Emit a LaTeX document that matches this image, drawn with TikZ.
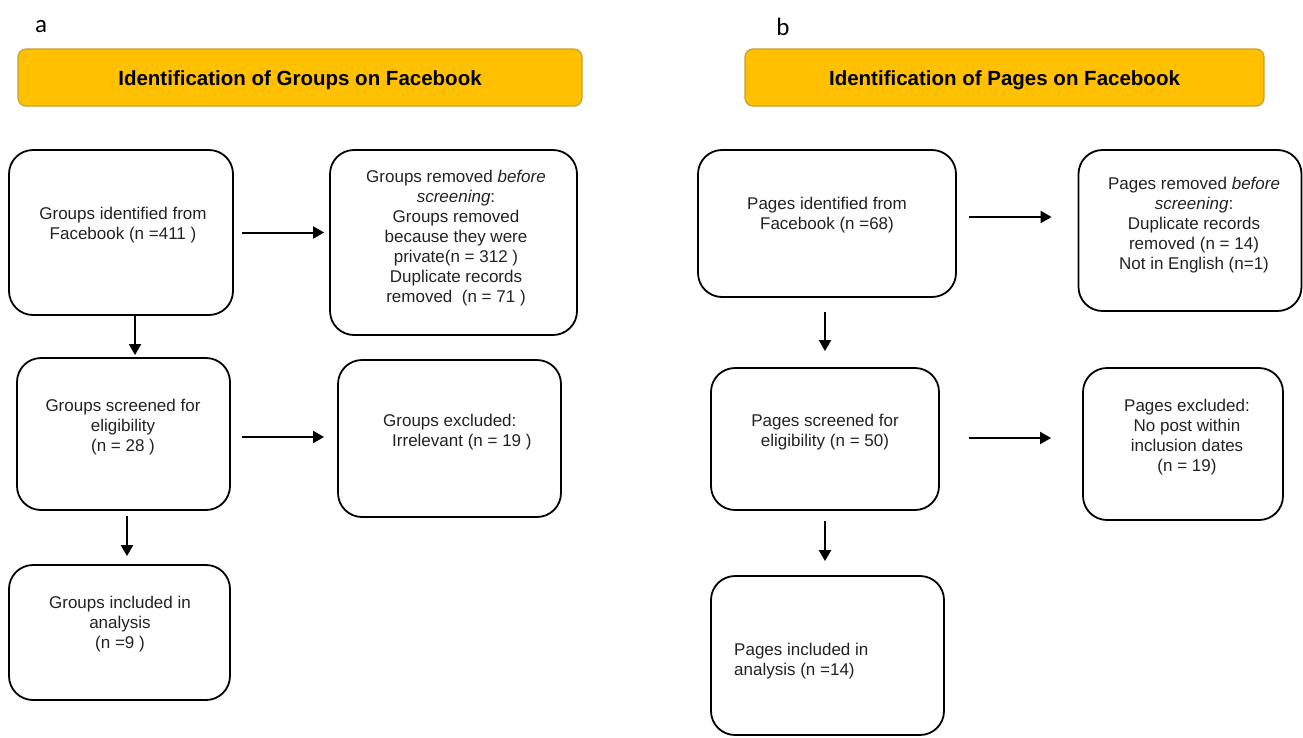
\documentclass[tikz,border=0pt]{standalone}
\usepackage{fontspec}
\setmainfont{Liberation Sans}
\newfontfamily\labfont{Carlito}
\usetikzlibrary{arrows.meta,calc}
\definecolor{hdr}{HTML}{FFC000}
\definecolor{hdrline}{HTML}{C8A030}
\definecolor{txtc}{HTML}{222222}
\tikzset{
  box/.style={draw=black, line width=1.8pt, rounded corners=24pt, inner sep=0pt},
  hdrbox/.style={draw=hdrline, fill=hdr, line width=1.2pt, rounded corners=8pt, inner sep=0pt},
  txt/.style={text=txtc, font=\fontsize{17}{20}\selectfont, inner sep=0pt},
  hdrtxt/.style={text=black, font=\fontsize{20.5}{22}\selectfont\bfseries, inner sep=0pt},
  lab/.style={font=\labfont\fontsize{25}{27}\selectfont, inner sep=0pt},
  arr/.style={line width=2pt, -{Triangle[length=11pt,width=12pt]}},
}
\begin{document}
\begin{tikzpicture}[x=1pt,y=-1pt]
\useasboundingbox (0,0) rectangle (1303,737);
% panel a
\node[lab] (la) at (41,27) {a};
\node[hdrbox, minimum width=564pt, minimum height=57pt] (Ha) at (300,77.5) {};
\node[hdrtxt] (Hat) at (300,80.5) {Identification of Groups on Facebook};
\node[box, minimum width=224pt, minimum height=165pt] (A1) at (121,232.5) {};
\node[txt, align=center] (A1t) at (123,225) {Groups identified from\\Facebook (n =411 )};
\node[box, minimum width=247pt, minimum height=185pt] (A2) at (453.5,242.5) {};
\node[txt, align=center] (A2t) at (456,238) {Groups removed \textit{before}\\\textit{screening}:\\Groups removed\\because they were\\private(n = 312 )\\Duplicate records\\removed\ \ (n = 71 )};
\node[box, minimum width=213pt, minimum height=152pt] (A3) at (123.5,434) {};
\node[txt, align=center] (A3t) at (123,427) {Groups screened for\\eligibility\\(n = 28 )};
\node[box, minimum width=223pt, minimum height=157pt] (A4) at (449.5,438.5) {};
\node[txt, align=left, anchor=west] (A4t) at (383,432) {Groups excluded:\\\hspace*{9pt}Irrelevant (n = 19 )};
\node[box, minimum width=221pt, minimum height=135pt] (A5) at (119.5,632.5) {};
\node[txt, align=center] (A5t) at (120,624) {Groups included in\\analysis\\(n =9 )};
\draw[arr] ([xshift=8pt]A1.east) -- ([xshift=-5pt]A2.west |- A1.east);
\draw[arr] ([xshift=14pt]A1.south) -- ([xshift=14pt,yshift=2pt]A1.south |- A3.north);
\draw[arr] ([xshift=11pt]A3.east |- 0,437) -- ([xshift=-13pt]A4.west |- 0,437);
\draw[arr] ([xshift=3.5pt,yshift=-5pt]A3.south) -- ([xshift=3.5pt,yshift=8pt]A3.south |- A5.north);
% panel b
\node[lab] (lb) at (783,27) {b};
\node[hdrbox, minimum width=519pt, minimum height=57pt] (Hb) at (1004.5,77.5) {};
\node[hdrtxt] (Hbt) at (1004.5,80.5) {Identification of Pages on Facebook};
\node[box, minimum width=258pt, minimum height=147pt] (B1) at (827,223.5) {};
\node[txt, align=center] (B1t) at (827,215.5) {Pages identified from\\Facebook (n =68)};
\node[box, minimum width=223pt, minimum height=161pt] (B2) at (1190,230.5) {};
\node[txt, align=center] (B2t) at (1194,225) {Pages removed \textit{before}\\\textit{screening}:\\Duplicate records\\removed (n = 14)\\Not in English (n=1)};
\node[box, minimum width=228pt, minimum height=142pt] (B3) at (825,439) {};
\node[txt, align=center] (B3t) at (825,432) {Pages screened for\\eligibility (n = 50)};
\node[box, minimum width=200pt, minimum height=152pt] (B4) at (1183,444) {};
\node[txt, align=center] (B4t) at (1187,437) {Pages excluded:\\No post within\\inclusion dates\\(n = 19)};
\node[box, minimum width=233pt, minimum height=159pt] (B5) at (827.5,655.5) {};
\node[txt, align=left, anchor=west] (B5t) at (734,661) {Pages included in\\analysis (n =14)};
\draw[arr] ([xshift=12pt]B1.east |- 0,217) -- ([xshift=-26pt]B2.west |- 0,217);
\draw[arr] ([xshift=-2pt,yshift=-14pt]B1.south) -- ([xshift=-2pt,yshift=16pt]B1.south |- B3.north);
\draw[arr] ([xshift=29pt]B3.east |- 0,438) -- ([xshift=-31pt]B4.west |- 0,438);
\draw[arr] ([yshift=-10pt]B3.south) -- ([yshift=14pt]B3.south |- B5.north);
\end{tikzpicture}
\end{document}
